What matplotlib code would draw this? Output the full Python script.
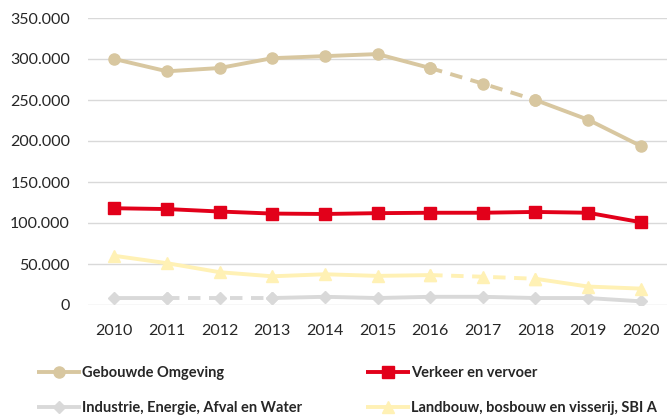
import matplotlib
matplotlib.use("Agg")
import matplotlib.pyplot as plt
import matplotlib.ticker as mticker
import numpy as np

years = ["2010", "2011", "2012", "2013", "2014", "2015", "2016", "2017", "2018", "2019", "2020"]
gebouwde = [300000, 285000, 289000, 301000, 303500, 306000, 289000, 270000, 250000, 226000, 194000]
verkeer = [118000, 117000, 114000, 111500, 111000, 112000, 112500, 112500, 113500, 112500, 101000]
industrie = [8500, 8500, 8500, 8500, 10000, 8500, 10000, 10000, 8500, 8500, 4500]
landbouw = [60000, 51000, 40000, 35000, 37500, 35500, 36500, 34500, 32000, 22500, 20000]
labels = ["Gebouwde Omgeving", "Verkeer en vervoer",
          "Industrie, Energie, Afval en Water", "Landbouw, bosbouw en visserij, SBI A"]

plt.rcParams['font.family'] = ['Lato', 'DejaVu Sans']

fig = plt.figure(figsize=(6.67, 4.17), dpi=100)
ax = fig.add_axes([88/667, 1-305/417, 1-88/667, (305-18)/417])

x = np.arange(len(years))

def draw(vals, color, marker, ms, dashed, zorder):
    v = np.array(vals, dtype=float)
    solid = v.copy()
    # dashed ranges are (start, end) index pairs
    for a, b in dashed:
        solid[a+1:b] = np.nan
    h, = ax.plot(x, solid, color=color, lw=2.8, marker=marker, ms=ms, zorder=zorder,
                 solid_capstyle='butt')
    for a, b in dashed:
        ax.plot(x[a:b+1], v[a:b+1], color=color, lw=2.8, ls=(0, (3.2, 2.2)),
                marker=marker, ms=ms, zorder=zorder, dash_capstyle='butt')
    return h

c_geb = "#D8C7A0"
c_ver = "#E2001A"
c_ind = "#D9D9D9"
c_lan = "#FFF1B5"

h1 = draw(gebouwde, c_geb, 'o', 8, [(6, 8)], 4)
h2 = draw(verkeer, c_ver, 's', 8, [], 5)
h3 = draw(industrie, c_ind, 'D', 6, [(1, 3)], 3)
h4 = draw(landbouw, c_lan, '^', 8, [(6, 8)], 3)

ax.set_xlim(-0.5, len(years)-0.5)
ax.set_ylim(0, 350000)
ax.set_yticks(np.arange(0, 350001, 50000))
ax.yaxis.set_major_formatter(mticker.FuncFormatter(
    lambda v, p: "0" if v == 0 else f"{int(v):,}".replace(",", ".")))
ax.set_xticks(x)
ax.set_xticklabels(years)
ax.grid(axis='y', color='#D9D9D9', lw=1)
ax.set_axisbelow(True)
for s in ax.spines.values():
    s.set_visible(False)
ax.tick_params(axis='both', length=0, labelsize=11.5, colors='#262626')
ax.tick_params(axis='x', pad=14)
ax.tick_params(axis='y', pad=13)

positions = [(37/667, 1-373/417), (366/667, 1-373/417),
             (37/667, 1-408/417), (366/667, 1-408/417)]
for h, lab, pos in zip([h1, h2, h3, h4], labels, positions):
    leg = fig.legend([h], [lab], loc='center left', bbox_to_anchor=pos, frameon=False,
                     handlelength=3.0, handletextpad=0.08, borderpad=0, borderaxespad=0,
                     prop={'size': 10.5, 'weight': 'bold'})
    for t in leg.get_texts():
        t.set_color('#262626')

fig.savefig("out.png", dpi=100)
